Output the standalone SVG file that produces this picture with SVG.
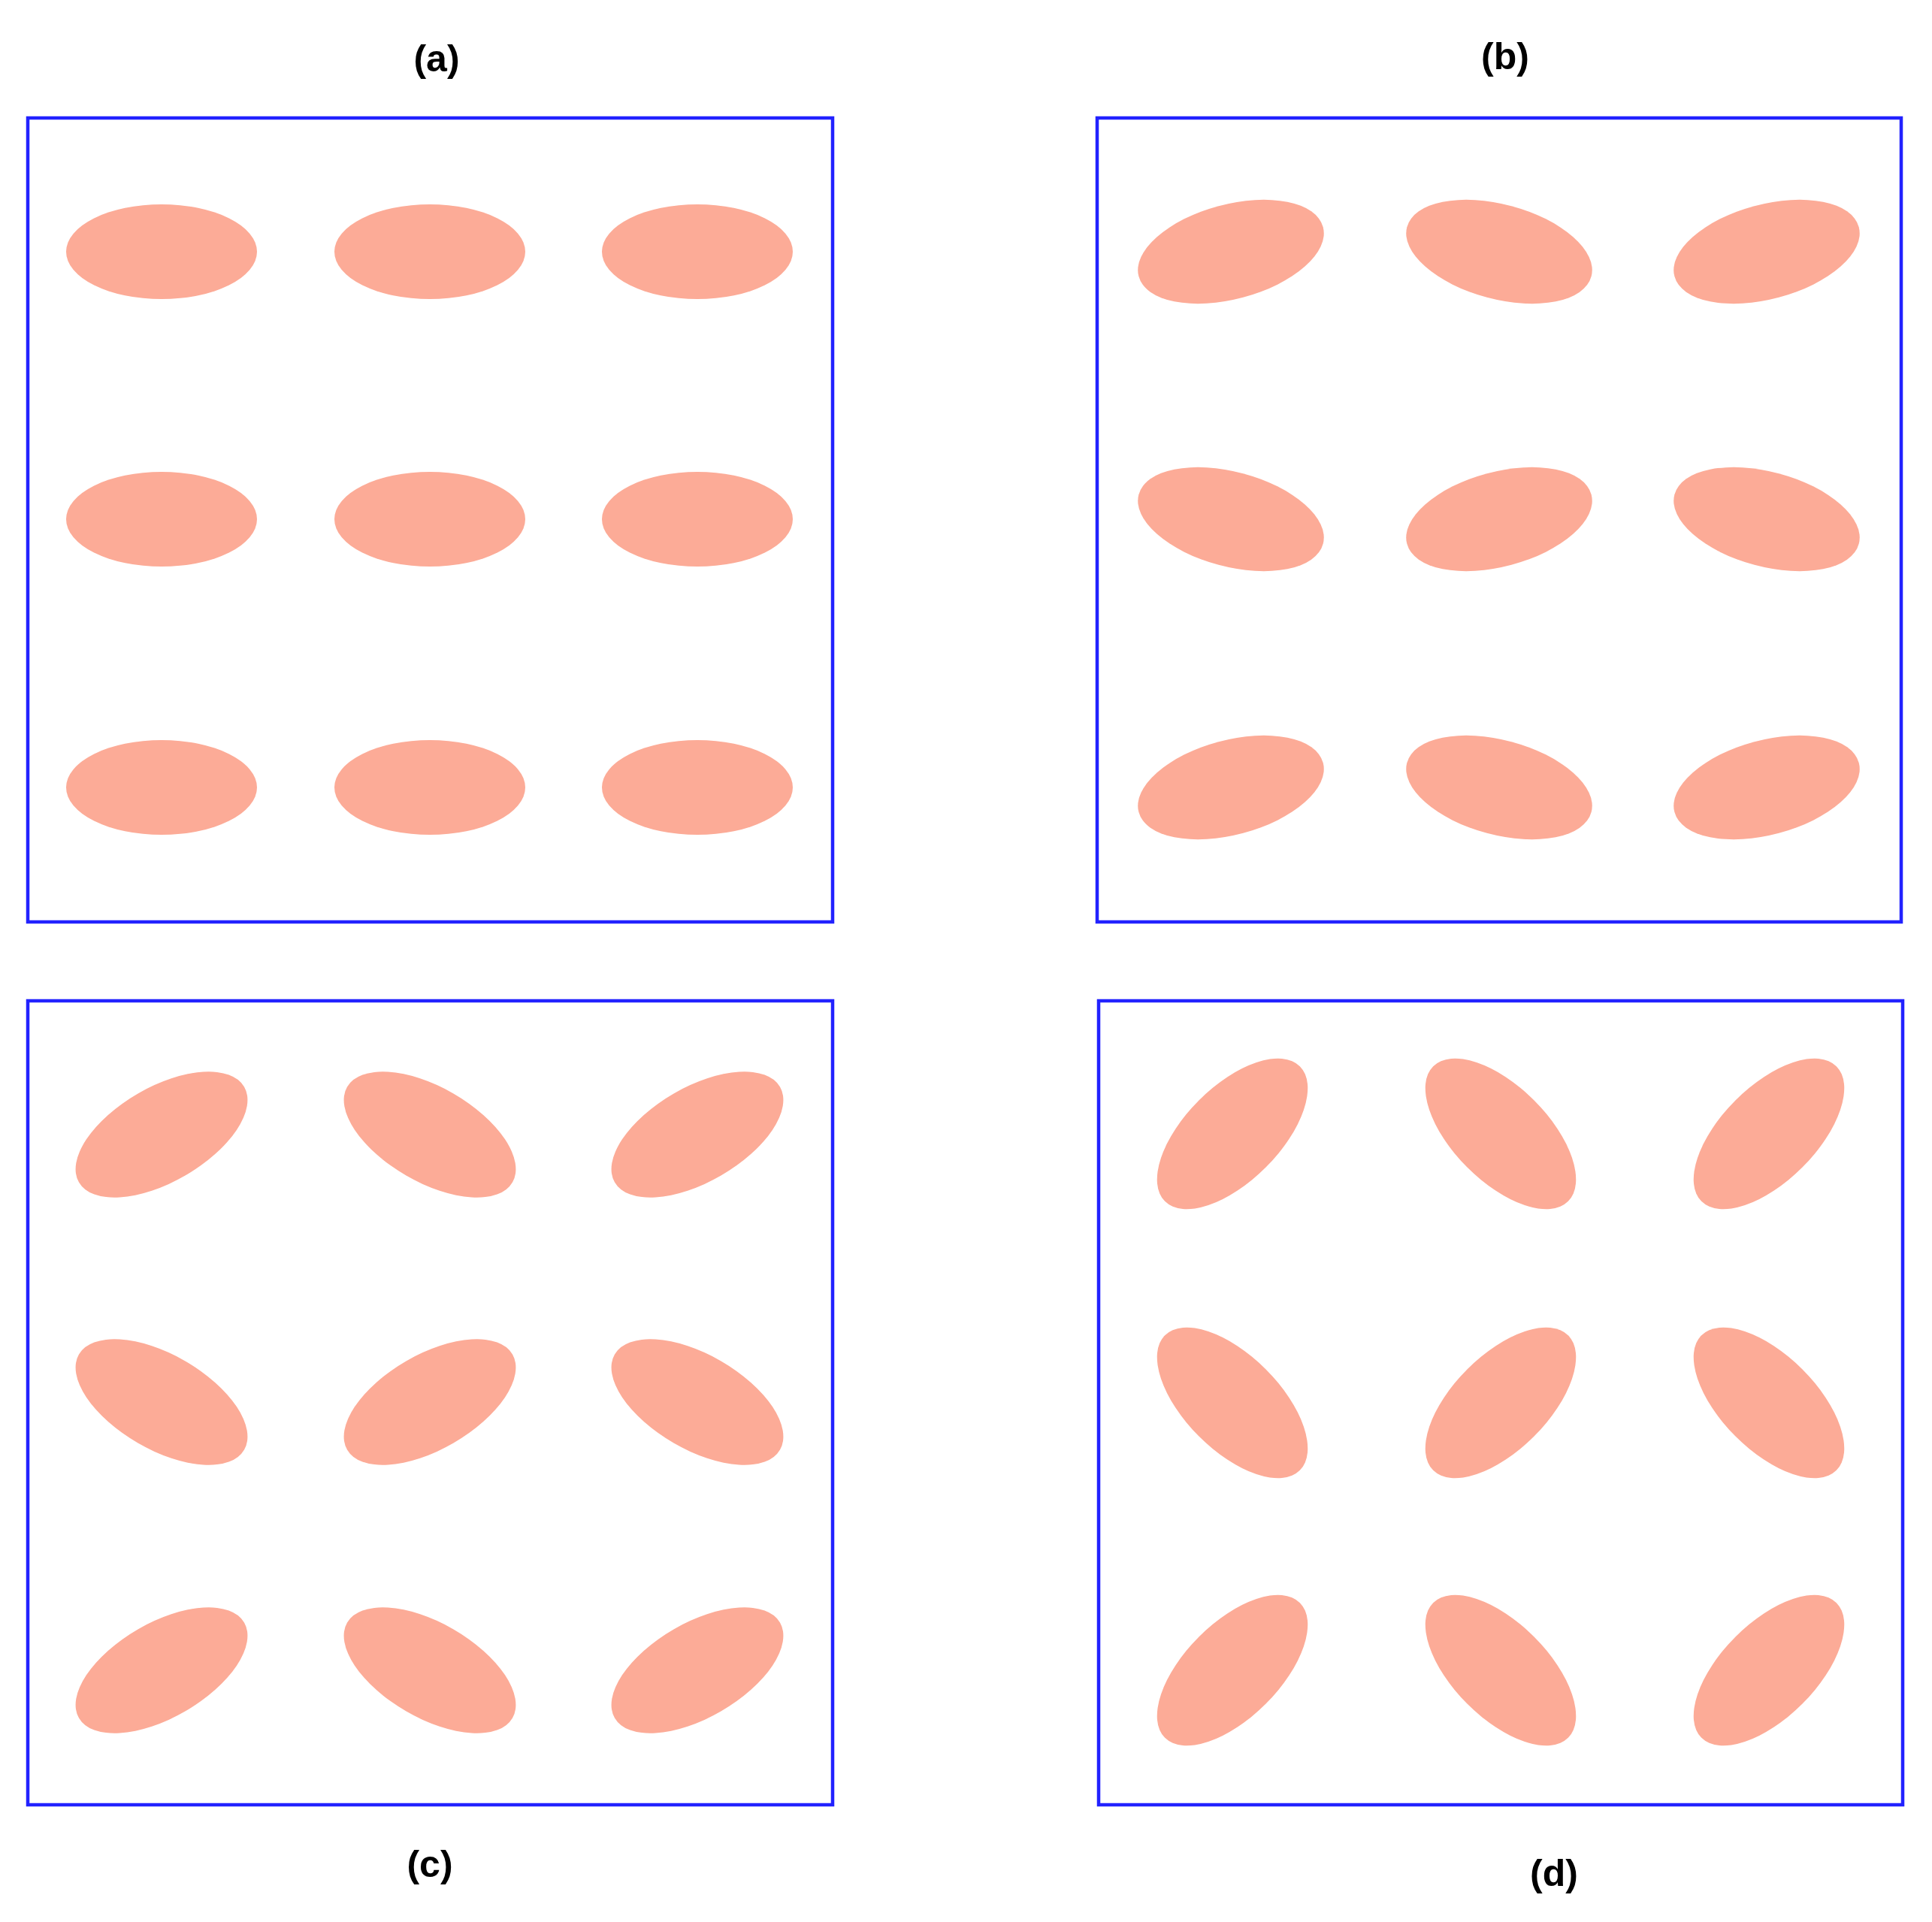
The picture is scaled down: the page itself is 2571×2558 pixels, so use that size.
<svg xmlns="http://www.w3.org/2000/svg" width="2571" height="2558" viewBox="0 0 2571 2558">
<style>
.frame{fill:none;stroke:#2222ff;stroke-width:4.5}
.el{fill:#fcab97}
.lbl{font-family:"Liberation Sans",Arial,sans-serif;font-weight:bold;font-size:50px;fill:#000;text-anchor:middle}
</style>
<defs>
<ellipse id="e" class="el" cx="0" cy="0" rx="127" ry="63"/>
</defs>
<rect width="2571" height="2558" fill="#fff"/>
<g id="panel-a">
<rect class="frame" x="37" y="157" width="1071" height="1070"/>
<text class="lbl" x="581" y="95">(a)</text>
<use href="#e" x="215" y="335"/><use href="#e" x="572" y="335"/><use href="#e" x="928" y="335"/>
<use href="#e" x="215" y="691"/><use href="#e" x="572" y="691"/><use href="#e" x="928" y="691"/>
<use href="#e" x="215" y="1048"/><use href="#e" x="572" y="1048"/><use href="#e" x="928" y="1048"/>
</g>
<g id="panel-b">
<rect class="frame" x="1460" y="157" width="1070" height="1070"/>
<text class="lbl" x="2003" y="92">(b)</text>
<use href="#e" transform="translate(1638,335) rotate(-15)"/><use href="#e" transform="translate(1995,335) rotate(15)"/><use href="#e" transform="translate(2351,335) rotate(-15)"/>
<use href="#e" transform="translate(1638,691) rotate(15)"/><use href="#e" transform="translate(1995,691) rotate(-15)"/><use href="#e" transform="translate(2351,691) rotate(15)"/>
<use href="#e" transform="translate(1638,1048) rotate(-15)"/><use href="#e" transform="translate(1995,1048) rotate(15)"/><use href="#e" transform="translate(2351,1048) rotate(-15)"/>
</g>
<g id="panel-c">
<rect class="frame" x="37" y="1332" width="1071" height="1070"/>
<text class="lbl" x="572" y="2498">(c)</text>
<use href="#e" transform="translate(215,1510) rotate(-30)"/><use href="#e" transform="translate(572,1510) rotate(30)"/><use href="#e" transform="translate(928,1510) rotate(-30)"/>
<use href="#e" transform="translate(215,1866) rotate(30)"/><use href="#e" transform="translate(572,1866) rotate(-30)"/><use href="#e" transform="translate(928,1866) rotate(30)"/>
<use href="#e" transform="translate(215,2223) rotate(-30)"/><use href="#e" transform="translate(572,2223) rotate(30)"/><use href="#e" transform="translate(928,2223) rotate(-30)"/>
</g>
<g id="panel-d">
<rect class="frame" x="1462" y="1332" width="1070" height="1070"/>
<text class="lbl" x="2068" y="2510">(d)</text>
<use href="#e" transform="translate(1640,1509) rotate(-45)"/><use href="#e" transform="translate(1997,1509) rotate(45)"/><use href="#e" transform="translate(2354,1509) rotate(-45)"/>
<use href="#e" transform="translate(1640,1867) rotate(45)"/><use href="#e" transform="translate(1997,1867) rotate(-45)"/><use href="#e" transform="translate(2354,1867) rotate(45)"/>
<use href="#e" transform="translate(1640,2223) rotate(-45)"/><use href="#e" transform="translate(1997,2223) rotate(45)"/><use href="#e" transform="translate(2354,2223) rotate(-45)"/>
</g>
</svg>
